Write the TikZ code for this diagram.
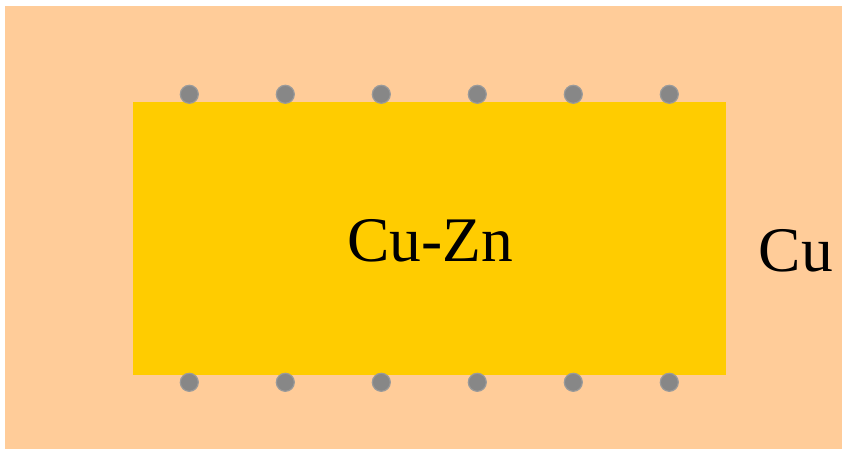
\documentclass[tikz,border=0pt]{standalone}
\usepackage{fontspec}
\setmainfont{Liberation Serif}
\definecolor{peach}{HTML}{FFCC99}
\definecolor{gold}{HTML}{FFCC00}
\definecolor{dotgray}{HTML}{878787}
\definecolor{dotedge}{HTML}{9A9A9A}
\begin{document}
\begin{tikzpicture}[x=1pt,y=-1pt,
  dot/.style={circle,fill=dotgray,draw=dotedge,line width=1.2pt,minimum size=18pt,inner sep=0pt},
  lbl/.style={font=\fontsize{63.5}{70}\selectfont,anchor=base,inner sep=0pt}]
\useasboundingbox (0,0) rectangle (842,449);
\fill[peach] (5,6) rectangle (842,449);
\fill[gold] (133,102) rectangle (726,375);
\foreach \i in {0,...,5} {
  \node[dot] (t\i) at (189.3+96*\i,94.3) {};
  \node[dot] (b\i) at (189.3+96*\i,382.3) {};
}
\node[lbl] (cuzn) at (430,261.7) {Cu-Zn};
\node[lbl] (cu) at (795.7,271) {Cu};
\end{tikzpicture}
\end{document}
